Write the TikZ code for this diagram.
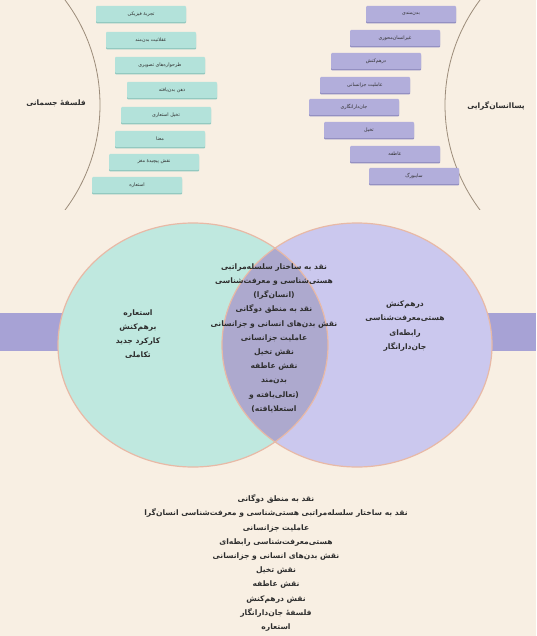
\documentclass[tikz,border=0pt]{standalone}
\usepackage{fontspec}
\newfontfamily\arabicfont[Script=Arabic]{DejaVu Sans}
\TeXXeTstate=1
\newcommand{\fa}[1]{\beginR #1\endR}

\definecolor{paper}{HTML}{F8EFE3}
\definecolor{tealbox}{HTML}{B3E2DA}
\definecolor{tealshade}{HTML}{93C9C0}
\definecolor{lavbox}{HTML}{B2AEDB}
\definecolor{lavshade}{HTML}{9490C2}
\definecolor{tealdisc}{HTML}{BFE8DF}
\definecolor{lavdisc}{HTML}{CBC8EE}
\definecolor{lensfill}{HTML}{ADA9CE}
\definecolor{band}{HTML}{A7A2D5}
\definecolor{rim}{HTML}{E8B9A6}
\definecolor{arcline}{HTML}{9C8C7A}
\definecolor{ink}{HTML}{2E2E2E}

\begin{document}
\begin{tikzpicture}[x=1pt,y=-1pt,
    every node/.style={text=ink},
    tagbox/.style={minimum width=90pt,minimum height=16pt,inner sep=1pt,
      rounded corners=1pt,font=\arabicfont\fontsize{4.8}{5}\selectfont},
    tealtag/.style={tagbox,fill=tealbox,
      preaction={fill=tealshade,transform canvas={yshift=-1.5pt}}},
    lavtag/.style={tagbox,fill=lavbox,
      preaction={fill=lavshade,transform canvas={yshift=-1.5pt}}},
    heading/.style={font=\arabicfont\bfseries\fontsize{7.5}{9}\selectfont},
    listing/.style={align=center,
      font=\arabicfont\bfseries\fontsize{7.6}{14.2}\selectfont}]
    \fill[paper] (0,0) rectangle (536,636);
    \path[use as bounding box] (0,0) rectangle (536,636);
    % Half circles at the top.
    \begin{scope}
      \clip (0,0) rectangle (536,210);
      \draw[arcline,line width=0.8pt] (-75,105) circle (175);
      \draw[arcline,line width=0.8pt] (620,105) circle (175);
    \end{scope}
    \node[heading] (embodied) at (56,103) {\fa{فلسفهٔ جسمانی}};
    \node[heading] (posthuman) at (496,106) {\fa{پساانسان‌گرایی}};
    % Tags of each side.
    \foreach \i/\x/\y/\txt in {1/141/14/{تجربهٔ فیزیکی},
        2/151/40/{عقلانیت بدن‌مند},
        3/160/65/{طرحواره‌های تصویری},
        4/172/90/{ذهن بدن‌یافته},
        5/166/115/{تخیل استعاری},
        6/160/139/{معنا},
        7/154/162/{نقش پیچیدهٔ مغز},
        8/137/185/{استعاره}}
      \node[tealtag] (l\i) at (\x,\y) {\fa{\txt}};
    \foreach \i/\x/\y/\txt in {1/411/14/{بدن‌مندی},
        2/395/38/{غیرانسان‌محوری},
        3/376/61/{درهم‌کنش},
        4/365/85/{عاملیت جزانسانی},
        5/354/107/{جان‌دارانگاری},
        6/369/130/{تخیل},
        7/395/154/{عاطفه},
        8/414/176/{سایبورگ}}
      \node[lavtag] (r\i) at (\x,\y) {\fa{\txt}};
    % Venn.
    \fill[band] (0,313) rectangle (536,351);
    \fill[tealdisc] (193,345) ellipse [x radius=135,y radius=122];
    \fill[lavdisc] (357,345) ellipse [x radius=135,y radius=122];
    \begin{scope}
      \clip (193,345) ellipse [x radius=135,y radius=122];
      \fill[lensfill] (357,345) ellipse [x radius=135,y radius=122];
    \end{scope}
    \draw[rim,line width=1.2pt] (193,345) ellipse [x radius=135,y radius=122];
    \draw[rim,line width=1.2pt] (357,345) ellipse [x radius=135,y radius=122];
    \node[listing] (leftset) at (138,334) {\fa{استعاره}\\\fa{برهم‌کنش}\\
      \fa{کارکرد جدید}\\\fa{تکاملی}};
    \node[listing] (rightset) at (405,326) {\fa{درهم‌کنش}\\
      \fa{هستی‌معرفت‌شناسی}\\\fa{رابطه‌ای}\\\fa{جان‌دارانگار}};
    \node[listing] (shared) at (274,338) {\fa{نقد به ساختار سلسله‌مراتبی}\\
      \fa{هستی‌شناسی و معرفت‌شناسی}\\\fa{(انسان‌گرا)}\\
      \fa{نقد به منطق دوگانی}\\\fa{نقش بدن‌های انسانی و جزانسانی}\\
      \fa{عاملیت جزانسانی}\\\fa{نقش تخیل}\\\fa{نقش عاطفه}\\
      \fa{بدن‌مند}\\\fa{(تعالی‌یافته و}\\\fa{استعلایافته)}};
    % Summary.
    \node[listing] (summary) at (276,563) {\fa{نقد به منطق دوگانی}\\
      \fa{نقد به ساختار سلسله‌مراتبی هستی‌شناسی و معرفت‌شناسی انسان‌گرا}\\
      \fa{عاملیت جزانسانی}\\\fa{هستی‌معرفت‌شناسی رابطه‌ای}\\
      \fa{نقش بدن‌های انسانی و جزانسانی}\\\fa{نقش تخیل}\\\fa{نقش عاطفه}\\
      \fa{نقش درهم‌کنش}\\\fa{فلسفهٔ جان‌دارانگار}\\\fa{استعاره}};
\end{tikzpicture}
\end{document}
